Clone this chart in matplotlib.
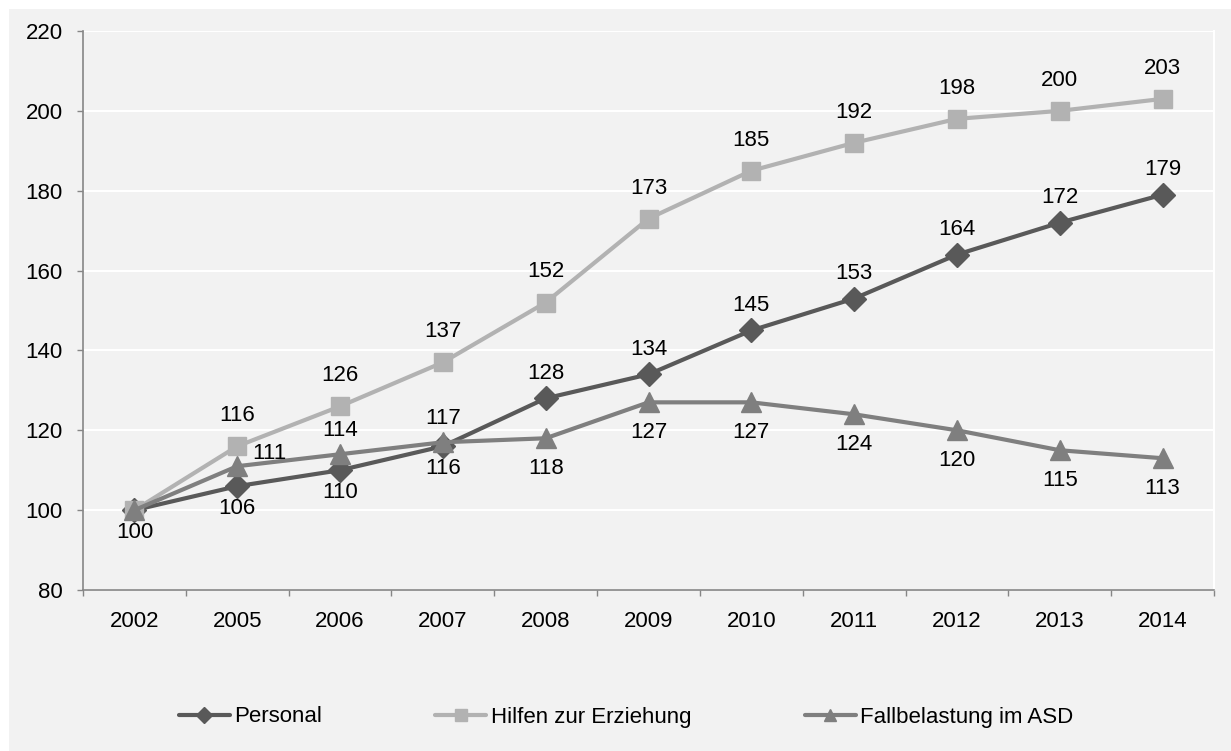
import numpy as np
import matplotlib.pyplot as plt
import matplotlib as mpl
from matplotlib.patches import Rectangle

mpl.rcParams['font.family'] = ['Liberation Sans', 'DejaVu Sans']
mpl.rcParams['font.size'] = 16

years = ['2002', '2005', '2006', '2007', '2008', '2009', '2010', '2011', '2012', '2013', '2014']
personal = [100, 106, 110, 116, 128, 134, 145, 153, 164, 172, 179]
hilfen = [100, 116, 126, 137, 152, 173, 185, 192, 198, 200, 203]
fallbelastung = [100, 111, 114, 117, 118, 127, 127, 124, 120, 115, 113]

# where each data label goes: a = above, b = below, r = right, '' = none
pos_personal = ['b', 'b', 'b', 'b', 'a', 'a', 'a', 'a', 'a', 'a', 'a']
pos_hilfen = ['', 'a', 'a', 'a', 'a', 'a', 'a', 'a', 'a', 'a', 'a']
pos_fall = ['', 'r', 'a', 'a', 'b', 'b', 'b', 'b', 'b', 'b', 'b']

bg = '#f2f2f2'
fig = plt.figure(figsize=(12.31, 7.51), dpi=100, facecolor='white')
fig.patches.append(Rectangle((9 / 1231, 0), 1 - 9 / 1231, 1 - 9 / 751,
                             transform=fig.transFigure, facecolor=bg,
                             edgecolor='none', zorder=-5))

ax = fig.add_axes([83 / 1231, 1 - 590 / 751, (1214 - 83) / 1231, (590 - 31) / 751])
ax.set_facecolor(bg)

x = np.arange(len(years))
series = [
    (personal, 'Personal', '#595959', 'D', 12.5, pos_personal, 18, 16),
    (hilfen, 'Hilfen zur Erziehung', '#b2b2b2', 's', 13, pos_hilfen, 22, 16),
    (fallbelastung, 'Fallbelastung im ASD', '#7f7f7f', '^', 14, pos_fall, 17, 22),
]

for vals, name, col, mk, ms, pos, up, down in series:
    ax.plot(x, vals, color=col, lw=3, marker=mk, ms=ms, mec=col, mfc=col,
            label=name, zorder=3, solid_capstyle='round')
    for xi, v, p in zip(x, vals, pos):
        if p == 'a':
            off, ha = (0, up), 'center'
        elif p == 'b':
            off, ha = (0, -down), 'center'
        elif p == 'r':
            off, ha = (11, 9), 'left'
        else:
            continue
        ax.annotate(str(v), (xi, v), xytext=off, textcoords='offset points',
                    ha=ha, va='center', fontsize=16, color='black', zorder=4)

ax.set_xlim(-0.5, len(years) - 0.5)
ax.set_ylim(80, 220)
ax.set_yticks(np.arange(80, 221, 20))

ax.set_xticks(np.arange(-0.5, len(years), 1))
ax.set_xticklabels([])
ax.set_xticks(x, minor=True)
ax.set_xticklabels(years, minor=True)
ax.tick_params(axis='x', which='major', direction='out', length=4.5, width=1, color='#868686')
ax.tick_params(axis='x', which='minor', length=0, pad=15, labelsize=16)
ax.tick_params(axis='y', direction='out', length=4.5, width=1, color='#868686', pad=10, labelsize=16)

ax.grid(axis='y', color='white', lw=1.5, zorder=0)
ax.set_axisbelow(True)
for s in ['left', 'bottom']:
    ax.spines[s].set_color('#868686')
    ax.spines[s].set_linewidth(1.2)
ax.spines['top'].set_visible(False)
ax.spines['right'].set_color('white')
ax.spines['right'].set_linewidth(1.5)

fig.legend(loc='center', bbox_to_anchor=(626 / 1231, 1 - 717 / 751), ncol=3,
           frameon=False, handlelength=2.3, handletextpad=0.2, columnspacing=5.1,
           markerscale=0.65, fontsize=16)

fig.savefig('out.png', dpi=100, facecolor=fig.get_facecolor())
